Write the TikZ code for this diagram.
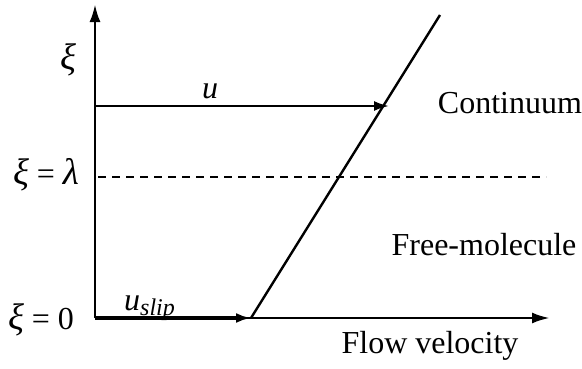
\documentclass[tikz,border=0pt]{standalone}
\usepackage{fontspec}
\setmainfont{Liberation Serif}
\usetikzlibrary{arrows.meta}

\newcommand{\gk}[1]{{\fontsize{37}{40}\selectfont\textit{#1}}}

\begin{document}
\begin{tikzpicture}[x=1pt, y=1pt,
    lbl/.style={font=\fontsize{32}{36}\selectfont, inner sep=0pt},
    axis/.style={line width=2.8pt, -{Latex[length=18pt, width=11pt]}},
    velo/.style={line width=2.2pt, -{Latex[length=15pt, width=10pt]}}]
  \useasboundingbox (0,0) rectangle (582,368);
  % axes
  \coordinate (O) at (95,50);
  \coordinate (ytop) at (95,364);
  \coordinate (xend) at (550,50);
  \draw[axis] (O) -- (ytop);
  \draw[axis] (O) -- (xend);
  % velocity profile
  \coordinate (slip) at (251,50);
  \coordinate (prof) at (440,353);
  \coordinate (ustart) at (95,262);
  \coordinate (uend) at (389,262);
  \draw[line width=2.4pt] (slip) -- (prof);
  \draw[velo] (ustart) -- (uend);
  \draw[line width=3.8pt, -{Latex[length=15pt, width=10pt]}] (O) -- (slip);
  % knudsen layer edge
  \coordinate (lamL) at (98,191);
  \coordinate (lamR) at (546,191);
  \draw[line width=1.7pt, dash pattern=on 8pt off 6pt] (lamL) -- (lamR);
  % labels
  \node[lbl] (xi) at (68,308) {\gk{ξ}};
  \node[lbl] (xilam) at (46,193) {\gk{ξ} = \gk{λ}};
  \node[lbl] (xizero) at (41,48) {\gk{ξ} = 0};
  \node[lbl, anchor=base] (ulab) at (210,270) {\textit{u}};
  \node[lbl, anchor=base west] (uslip) at (124,58) {\textit{u}{\fontsize{24}{24}\selectfont\raisebox{-5pt}{\textit{slip}}}};
  \node[lbl] (cont) at (510,265) {Continuum};
  \node[lbl] (free) at (484,123) {Free-molecule};
  \node[lbl] (flow) at (430,22) {Flow velocity};
\end{tikzpicture}
\end{document}
